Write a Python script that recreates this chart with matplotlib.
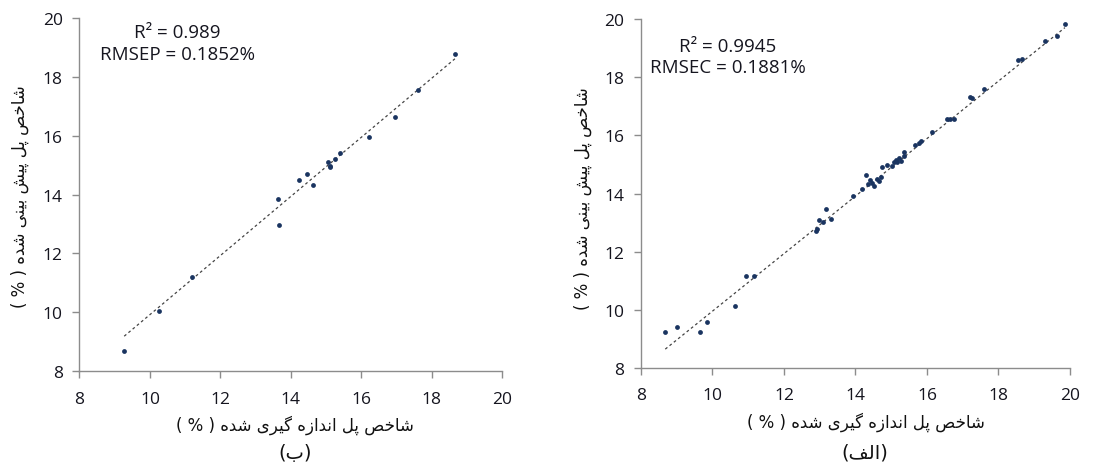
import matplotlib
matplotlib.use("Agg")
import matplotlib.pyplot as plt
import numpy as np

# ---------------------------------------------------------------- data
# (ب) prediction set
pred_measured = [9.27, 10.27, 11.19, 13.65, 13.67, 14.23, 14.47, 14.62, 15.06, 15.11,
                 15.10, 15.25, 15.39, 16.23, 16.97, 17.60, 18.66]
pred_predicted = [8.70, 10.06, 11.19, 13.84, 12.98, 14.50, 14.70, 14.33, 15.10, 14.98,
                  14.95, 15.22, 15.40, 15.94, 16.63, 17.57, 18.78]
pred_fit = (1.004, -0.12)          # slope, intercept of the trendline
pred_stats = "R\u00b2 = 0.989\nRMSEP = 0.1852%"

# (الف) calibration set
cal_measured = [8.68, 9.01, 9.64, 9.85, 10.63, 10.94, 11.15, 12.90, 12.92, 12.99,
                13.08, 13.18, 13.32, 13.94, 14.18, 14.30, 14.36, 14.41, 14.46, 14.52,
                14.60, 14.67, 14.71, 14.74, 14.88, 15.02, 15.09, 15.14, 15.17, 15.23,
                15.27, 15.36, 15.37, 15.67, 15.79, 15.84, 16.15, 16.57, 16.65, 16.77,
                17.20, 17.27, 17.60, 18.56, 18.65, 19.30, 19.63, 19.86]
cal_predicted = [9.25, 9.42, 9.25, 9.57, 10.14, 11.16, 11.17, 12.72, 12.78, 13.09,
                 13.01, 13.46, 13.12, 13.93, 14.14, 14.65, 14.33, 14.47, 14.38, 14.27,
                 14.50, 14.44, 14.56, 14.90, 14.99, 14.96, 15.07, 15.16, 15.07, 15.21,
                 15.13, 15.30, 15.42, 15.68, 15.74, 15.82, 16.13, 16.56, 16.58, 16.56,
                 17.31, 17.28, 17.59, 18.59, 18.62, 19.25, 19.43, 19.83]
cal_fit = (0.989, 0.065)
cal_stats = "R\u00b2 = 0.9945\nRMSEC = 0.1881%"

ticks = [8, 10, 12, 14, 16, 18, 20]

# ---------------------------------------------------------------- arabic shaping
# presentation forms: (isolated, final, initial, medial)
FORMS = {
    "ا": ("\uFE8D", "\uFE8E", None, None),
    "ب": ("\uFE8F", "\uFE90", "\uFE91", "\uFE92"),
    "پ": ("\uFB56", "\uFB57", "\uFB58", "\uFB59"),
    "خ": ("\uFEA5", "\uFEA6", "\uFEA7", "\uFEA8"),
    "د": ("\uFEA9", "\uFEAA", None, None),
    "ر": ("\uFEAD", "\uFEAE", None, None),
    "ز": ("\uFEAF", "\uFEB0", None, None),
    "ش": ("\uFEB5", "\uFEB6", "\uFEB7", "\uFEB8"),
    "ص": ("\uFEB9", "\uFEBA", "\uFEBB", "\uFEBC"),
    "ف": ("\uFED1", "\uFED2", "\uFED3", "\uFED4"),
    "ل": ("\uFEDD", "\uFEDE", "\uFEDF", "\uFEE0"),
    "ن": ("\uFEE5", "\uFEE6", "\uFEE7", "\uFEE8"),
    "ه": ("\uFEE9", "\uFEEA", "\uFEEB", "\uFEEC"),
    "گ": ("\uFB92", "\uFB93", "\uFB94", "\uFB95"),
    "ی": ("\uFBFC", "\uFBFD", "\uFBFE", "\uFBFF"),
}


def dual(c):
    return c in FORMS and FORMS[c][2] is not None


def visual(text):
    out = []
    for i, c in enumerate(text):
        if c not in FORMS:
            out.append(c)
            continue
        prev = text[i - 1] if i > 0 else " "
        nxt = text[i + 1] if i + 1 < len(text) else " "
        jp = dual(prev)
        jn = dual(c) and nxt in FORMS
        iso, fin, ini, med = FORMS[c]
        if jp and jn:
            out.append(med)
        elif jp:
            out.append(fin)
        elif jn:
            out.append(ini)
        else:
            out.append(iso)
    return "".join(reversed(out))


xlabel = "( % ) " + visual("شاخص پل اندازه گیری شده")
ylabel = "( % ) " + visual("شاخص پل پیش بینی شده")
cap_b = "(" + visual("ب") + ")"
cap_a = "(" + visual("الف") + ")"

# ---------------------------------------------------------------- figure
NUM_FONT = ["Open Sans", "DejaVu Sans"]
AR_FONT = ["DejaVu Sans"]
DOT = "#1a3460"
TXT = "#15151f"

fig = plt.figure(figsize=(11.18, 4.64), dpi=100)


def panel(rect, xs, ys, fit, stats, sx, sy):
    ax = fig.add_axes(rect)
    xf = np.array([min(xs), max(xs)])
    ax.plot(xf, fit[0] * xf + fit[1], color="#444444", lw=0.9, ls=(0, (2.2, 2.2)))
    ax.scatter(xs, ys, s=12, color=DOT, zorder=3, linewidths=0)
    ax.set_xlim(8, 20)
    ax.set_ylim(8, 20)
    ax.set_xticks(ticks)
    ax.set_yticks(ticks)
    for s in ("top", "right"):
        ax.spines[s].set_visible(False)
    for s in ("left", "bottom"):
        ax.spines[s].set_color("#8c8c8c")
        ax.spines[s].set_linewidth(1.0)
    ax.tick_params(direction="out", length=5, width=1.0, color="#8c8c8c",
                   labelsize=12.5, labelcolor=TXT)
    ax.tick_params(axis="x", pad=9)
    ax.tick_params(axis="y", pad=7)
    for lab in ax.get_xticklabels() + ax.get_yticklabels():
        lab.set_family(NUM_FONT)
    ax.text(sx, sy, stats, transform=ax.transAxes, ha="center", va="top",
            fontsize=13.5, color=TXT, family=NUM_FONT, linespacing=1.25)
    return ax


panel([0.0711, 0.198, 0.378, 0.761], pred_measured, pred_predicted, pred_fit,
      pred_stats, 0.232, 0.985)
panel([0.5733, 0.2047, 0.3837, 0.752], cal_measured, cal_predicted, cal_fit,
      cal_stats, 0.203, 0.95)

fig.text(0.2639, 0.0841, xlabel, ha="center", va="center", fontsize=12,
         family=AR_FONT, color="#111111")
fig.text(0.2639, 0.0237, cap_b, ha="center", va="center", fontsize=14,
         family=AR_FONT, color="#111111")
fig.text(0.7746, 0.0905, xlabel, ha="center", va="center", fontsize=12,
         family=AR_FONT, color="#111111")
fig.text(0.7737, 0.0237, cap_a, ha="center", va="center", fontsize=14,
         family=AR_FONT, color="#111111")
fig.text(0.0179, 0.5754, ylabel, ha="center", va="center", rotation=90,
         fontsize=12, family=AR_FONT, color="#111111")
fig.text(0.5215, 0.573, ylabel, ha="center", va="center", rotation=90,
         fontsize=12, family=AR_FONT, color="#111111")

fig.savefig("out.png", dpi=100)
